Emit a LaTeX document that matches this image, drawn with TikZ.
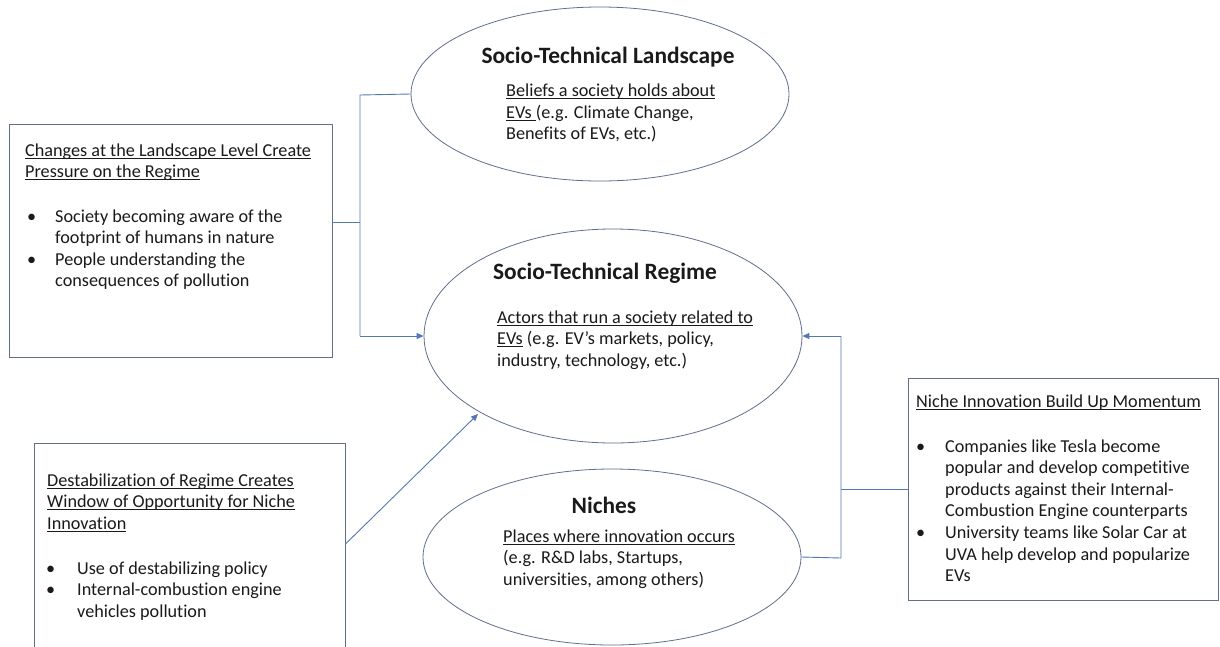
\documentclass[tikz,border=0pt]{standalone}
\usepackage{fontspec}
\setmainfont{Carlito}[Ligatures=NoCommon]
\usetikzlibrary{shapes.geometric,arrows.meta}
\definecolor{ellcol}{RGB}{96,112,140}
\definecolor{boxcol}{RGB}{100,112,130}
\definecolor{concol}{RGB}{84,120,178}
\definecolor{txtcol}{RGB}{26,26,26}
\newcommand{\uln}[1]{\setbox0\hbox{#1}\rlap{\rule[-2.6pt]{\wd0}{0.9pt}}\box0\relax}
\newcommand{\blk}[1]{\begin{tabular}[t]{@{}l@{}}#1\end{tabular}}
\tikzset{
  ell/.style={ellipse, draw=ellcol, line width=0.8pt, inner sep=0pt},
  txtbox/.style={rectangle, draw=boxcol, line width=0.9pt, inner sep=0pt},
  conn/.style={draw=concol, line width=0.9pt},
  arr/.style={conn, -{Triangle[length=7pt,width=6pt]}},
  ttl/.style={anchor=base, text=txtcol, inner sep=0pt, font=\fontsize{23.4}{28}\selectfont\bfseries},
  body/.style={anchor=base west, text=txtcol, inner sep=0pt, font=\fontsize{18.2}{21.6}\selectfont},
}
\begin{document}
\begin{tikzpicture}[x=1pt,y=-1pt]
\useasboundingbox (0,0) rectangle (1220,646);
\clip (0,0) rectangle (1220,646);
\fill[white] (0,0) rectangle (1220,646);
% ellipses
\node[ell, minimum width=378pt, minimum height=174pt] (land) at (600,94) {};
\node[ell, minimum width=378pt, minimum height=214pt] (reg) at (613,336) {};
\node[ell, minimum width=378pt, minimum height=176pt] (niche) at (612,557) {};
% boxes
\node[txtbox, minimum width=323pt, minimum height=233pt] (b1) at (170.5,240.5) {};
\node[txtbox, minimum width=311pt, minimum height=240pt] (b2) at (189.5,563) {};
\node[txtbox, minimum width=310pt, minimum height=222pt] (b3) at (1063,489) {};
% ellipse texts
\node[ttl] (landT) at (608,63) {Socio-Technical Landscape};
\node[body] (landB) at (506,96.5) {\blk{\uln{Beliefs a society holds about}\\\uln{EVs }(e.g. Climate Change,\\Benefits of EVs, etc.)}};
\node[ttl] (regT) at (605,279) {Socio-Technical Regime};
\node[body] (regB) at (497,323) {\blk{\uln{Actors that run a society related to}\\\uln{EVs} (e.g. EV’s markets, policy,\\industry, technology, etc.)}};
\node[ttl] (nicT) at (604,513) {Niches};
\node[body] (nicB) at (503,542) {\blk{\uln{Places where innovation occurs}\\(e.g. R\&D labs, Startups,\\universities, among others)}};
% box texts
\node[body] (b1T) at (25,156) {\blk{\uln{Changes at the Landscape Level Create}\\\uln{Pressure on the Regime}}};
\node[body] (b1L) at (27,222) {\blk{\makebox[28pt][l]{•}Society becoming aware of the\\\hspace*{28pt}footprint of humans in nature\\\makebox[28pt][l]{•}People understanding the\\\hspace*{28pt}consequences of pollution}};
\node[body] (b2T) at (47,486) {\blk{\uln{Destabilization of Regime Creates}\\\uln{Window of Opportunity for Niche}\\\uln{Innovation}}};
\node[body] (b2L) at (46,574) {\blk{\makebox[31pt][l]{•}Use of destabilizing policy\\\makebox[31pt][l]{•}Internal-combustion engine\\\hspace*{31pt}vehicles pollution}};
\node[body] (b3T) at (916,407) {\uln{Niche Innovation Build Up Momentum}};
\node[body] (b3L) at (916,452) {\blk{\makebox[29pt][l]{•}Companies like  Tesla become\\\hspace*{29pt}popular and develop competitive\\\hspace*{29pt}products against their Internal-\\\hspace*{29pt}Combustion Engine counterparts\\\makebox[29pt][l]{•}University teams like  Solar Car at\\\hspace*{29pt}UVA help develop and popularize\\\hspace*{29pt}EVs}};
% connectors
\coordinate (lj) at (360,95);
\coordinate (lb) at (360,336);
\coordinate (rj) at (841,336);
\coordinate (rb) at (841,558);
\coordinate (b2out) at (b2.east |- 0,544);
\coordinate (regin) at (478,414);
\draw[conn] (land.west) -- (lj) -- (lb);
\draw[arr] (lb) -- (reg.west);
\draw[conn] (b1.east |- 0,222) -- (lj |- 0,222);
\draw[arr] (b2out) -- (regin);
\draw[conn] (niche.east) -- (rb) -- (rj);
\draw[arr] (rj) -- (reg.east);
\draw[conn] (b3.west) -- (rj |- b3.west);
\end{tikzpicture}
\end{document}
